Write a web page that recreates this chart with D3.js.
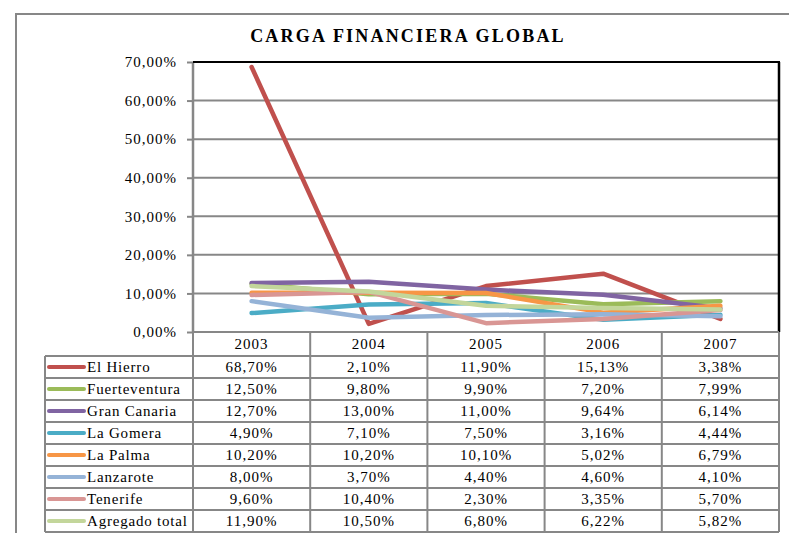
<!DOCTYPE html>
<html>
<head>
<meta charset="utf-8">
<script src="https://cdn.jsdelivr.net/npm/d3@7.9.0/dist/d3.min.js"></script>
<style>
  html, body { margin: 0; padding: 0; background: #fff; }
  svg { display: block; }
  text { font-family: 'Liberation Serif', 'DejaVu Serif', 'Times New Roman', serif; fill: #000; }
</style>
</head>
<body>
<svg id="chart" width="789" height="533"></svg>
<script>
const TITLE = 'CARGA FINANCIERA GLOBAL';

const years = ['2003', '2004', '2005', '2006', '2007'];

const seriesNames = [
  'El Hierro',
  'Fuerteventura',
  'Gran Canaria',
  'La Gomera',
  'La Palma',
  'Lanzarote',
  'Tenerife',
  'Agregado total',
];

const elHierro = [68.70, 2.10, 11.90, 15.13, 3.38];
const fuerteventura = [12.50, 9.80, 9.90, 7.20, 7.99];
const granCanaria = [12.70, 13.00, 11.00, 9.64, 6.14];
const laGomera = [4.90, 7.10, 7.50, 3.16, 4.44];
const laPalma = [10.20, 10.20, 10.10, 5.02, 6.79];
const lanzarote = [8.00, 3.70, 4.40, 4.60, 4.10];
const tenerife = [9.60, 10.40, 2.30, 3.35, 5.70];
const agregadoTotal = [11.90, 10.50, 6.80, 6.22, 5.82];

const yTicks = [0, 10, 20, 30, 40, 50, 60, 70];

const seriesColors = [
  '#c0504d', // red
  '#9bbb59', // green
  '#8064a2', // violet
  '#4bacc6', // teal
  '#f79646', // orange
  '#95b3d7', // light blue
  '#d99694', // pink
  '#c3d69b', // light green
];

const seriesValues = [elHierro, fuerteventura, granCanaria, laGomera, laPalma, lanzarote, tenerife, agregadoTotal];
const series = seriesNames.map((name, i) => ({ name, color: seriesColors[i], values: seriesValues[i] }));

// spanish number format: 68,70%
const fmtPct = (v) => v.toFixed(2).replace('.', ',') + '%';

const svg = d3.select('#chart');
const GRID = '#878787';
const FONT = "'Liberation Serif', 'DejaVu Serif', serif";

const plot = { left: 193, right: 779, top: 62, bottom: 332 };
const tableLeft = 45;
const headerH = 24;
const rowH = 22;

const x = d3.scaleBand().domain(years).range([plot.left, plot.right]);
const y = d3.scaleLinear().domain([0, 70]).range([plot.bottom, plot.top]);

// outer chart frame (continues past the window)
svg.append('path')
  .attr('d', 'M16,540 L16,14 L800,14')
  .attr('fill', 'none')
  .attr('stroke', GRID)
  .attr('stroke-width', 2);

svg.append('text')
  .attr('x', 408)
  .attr('y', 42)
  .attr('text-anchor', 'middle')
  .attr('font-size', 18)
  .attr('font-weight', 'bold')
  .attr('letter-spacing', 2.2)
  .text(TITLE);

// horizontal gridlines only
svg.append('g')
  .selectAll('line')
  .data(yTicks.filter((t) => t > 0 && t < 70))
  .join('line')
  .attr('x1', plot.left)
  .attr('x2', plot.right)
  .attr('y1', (d) => y(d))
  .attr('y2', (d) => y(d))
  .attr('stroke', GRID)
  .attr('stroke-width', 2);

// y axis
const yAxis = svg.append('g').attr('transform', `translate(${plot.left},0)`)
  .call(d3.axisLeft(y).tickValues(yTicks).tickSize(6).tickPadding(10).tickFormat(fmtPct));
yAxis.select('.domain').remove();
yAxis.selectAll('.tick line').attr('stroke', GRID).attr('stroke-width', 2);
yAxis.selectAll('.tick text')
  .attr('font-family', FONT)
  .attr('font-size', 15)
  .attr('letter-spacing', 1)
  .attr('fill', '#000');
yAxis.attr('font-family', FONT);

svg.append('line')
  .attr('x1', plot.left).attr('x2', plot.left)
  .attr('y1', plot.top).attr('y2', plot.bottom)
  .attr('stroke', GRID).attr('stroke-width', 2.5);

// plot frame: black top and right
svg.append('line')
  .attr('x1', plot.left).attr('x2', plot.right + 1)
  .attr('y1', plot.top).attr('y2', plot.top)
  .attr('stroke', '#000').attr('stroke-width', 2);
svg.append('line')
  .attr('x1', plot.right).attr('x2', plot.right)
  .attr('y1', plot.top).attr('y2', plot.bottom)
  .attr('stroke', '#000').attr('stroke-width', 2.5);

// data table
const tableBottom = plot.bottom + headerH + rowH * seriesNames.length;
const table = svg.append('g');

years.forEach((yr) => {
  table.append('line')
    .attr('x1', x(yr)).attr('x2', x(yr))
    .attr('y1', plot.bottom).attr('y2', tableBottom)
    .attr('stroke', GRID).attr('stroke-width', 2);
});
table.append('line')
  .attr('x1', plot.right).attr('x2', plot.right)
  .attr('y1', plot.bottom).attr('y2', tableBottom)
  .attr('stroke', GRID).attr('stroke-width', 2);
table.append('line')
  .attr('x1', plot.left).attr('x2', plot.right)
  .attr('y1', plot.bottom).attr('y2', plot.bottom)
  .attr('stroke', GRID).attr('stroke-width', 2);
table.append('line')
  .attr('x1', tableLeft).attr('x2', tableLeft)
  .attr('y1', plot.bottom + headerH).attr('y2', tableBottom)
  .attr('stroke', GRID).attr('stroke-width', 2);

d3.range(seriesNames.length + 1).forEach((i) => {
  const yy = plot.bottom + headerH + i * rowH;
  table.append('line')
    .attr('x1', tableLeft).attr('x2', plot.right)
    .attr('y1', yy).attr('y2', yy)
    .attr('stroke', GRID).attr('stroke-width', 2);
});

table.selectAll('text.year')
  .data(years)
  .join('text')
  .attr('class', 'year')
  .attr('x', (d) => x(d) + x.bandwidth() / 2)
  .attr('y', plot.bottom + headerH / 2 + 5)
  .attr('text-anchor', 'middle')
  .attr('font-size', 15)
  .attr('letter-spacing', 1)
  .text((d) => d);

const rows = table.selectAll('g.row')
  .data(series)
  .join('g')
  .attr('class', 'row')
  .attr('transform', (d, i) => `translate(0,${plot.bottom + headerH + i * rowH})`);

rows.append('line')
  .attr('x1', tableLeft + 4).attr('x2', tableLeft + 39)
  .attr('y1', rowH / 2).attr('y2', rowH / 2)
  .attr('stroke', (d) => d.color)
  .attr('stroke-width', 4)
  .attr('stroke-linecap', 'round');

rows.append('text')
  .attr('x', tableLeft + 42)
  .attr('y', rowH / 2 + 5)
  .attr('font-size', 15)
  .attr('letter-spacing', 0.8)
  .text((d) => d.name);

rows.selectAll('text.val')
  .data((d) => d.values)
  .join('text')
  .attr('class', 'val')
  .attr('x', (d, i) => x(years[i]) + x.bandwidth() / 2)
  .attr('y', rowH / 2 + 5)
  .attr('text-anchor', 'middle')
  .attr('font-size', 15)
  .attr('letter-spacing', 1)
  .text((d) => fmtPct(d));

// lines, first series drawn first
const line = d3.line()
  .x((d, i) => x(years[i]) + x.bandwidth() / 2)
  .y((d) => y(d));

svg.append('g')
  .selectAll('path')
  .data(series)
  .join('path')
  .attr('d', (d) => line(d.values))
  .attr('fill', 'none')
  .attr('stroke', (d) => d.color)
  .attr('stroke-width', 4.5)
  .attr('stroke-linejoin', 'round')
  .attr('stroke-linecap', 'round');
</script>
</body>
</html>
